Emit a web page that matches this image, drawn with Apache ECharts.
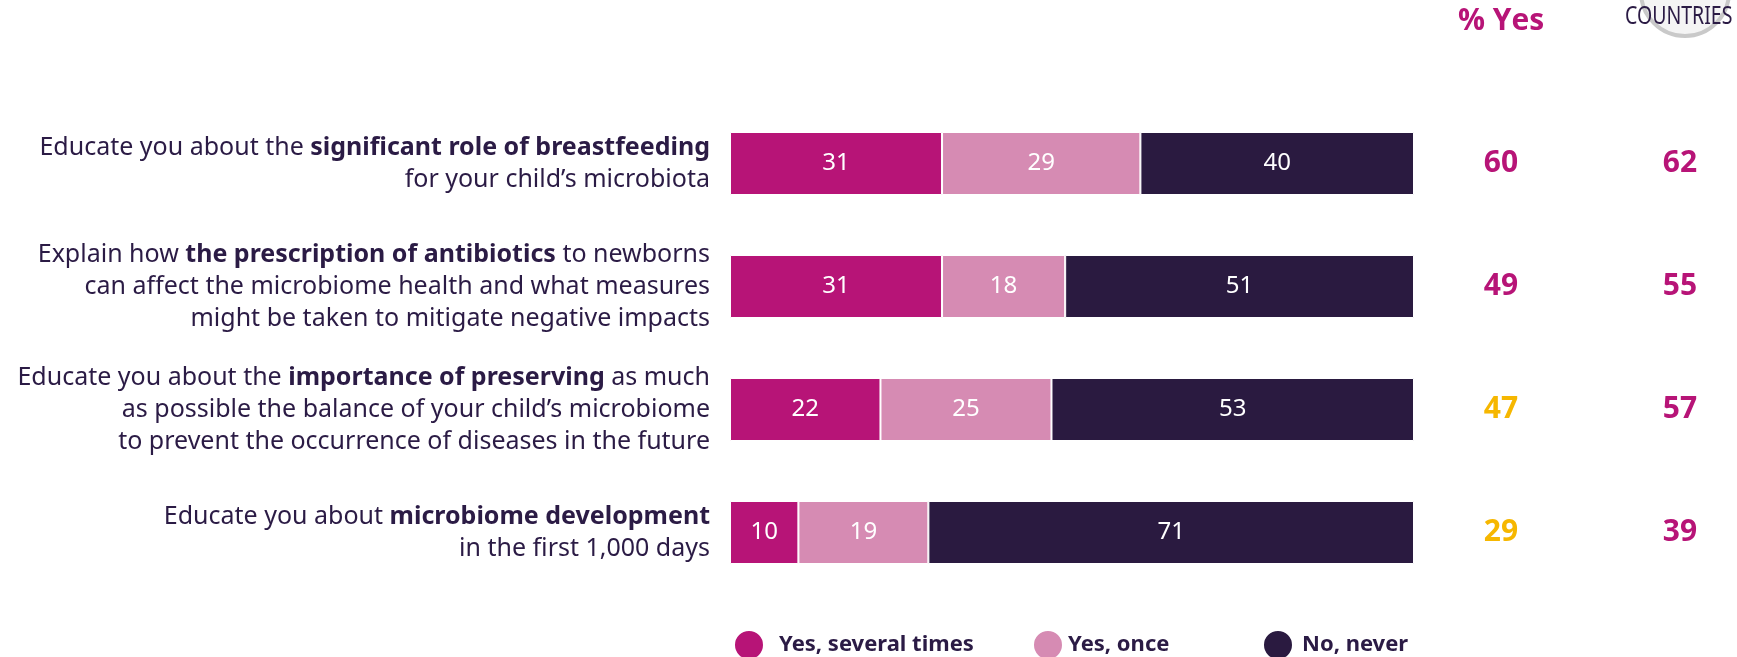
<!DOCTYPE html>
<html>
<head>
<meta charset="utf-8">
<script src="https://cdn.jsdelivr.net/npm/echarts@6/dist/echarts.min.js"></script>
<style>
  html, body { margin: 0; padding: 0; background: #ffffff; }
  #chart { width: 1737px; height: 657px; }
</style>
</head>
<body>
<div id="chart"></div>
<script>
// ---------- DATA ----------
const categories = [
  'Educate you about the **significant role of breastfeeding**\nfor your child’s microbiota',
  'Explain how **the prescription of antibiotics** to newborns\ncan affect the microbiome health and what measures\nmight be taken to mitigate negative impacts',
  'Educate you about the **importance of preserving** as much\nas possible the balance of your child’s microbiome\nto prevent the occurrence of diseases in the future',
  'Educate you about **microbiome development**\nin the first 1,000 days'
];
const seriesNames = ['Yes, several times', 'Yes, once', 'No, never'];
const yesSeveral = [31, 31, 22, 10];
const yesOnce = [29, 18, 25, 19];
const noNever = [40, 51, 53, 71];
const pctYes = [60, 49, 47, 29];
const allCountries = [62, 55, 57, 39];
const headerYes = '% Yes';
const headerCountries = 'COUNTRIES';

// ---------- STYLE ----------
const MAGENTA = '#b71477';
const PINK = '#d68bb3';
const DARK = '#2a1a40';
const YELLOW = '#f6b700';
const TEXT = '#2b1b45';
const FONT = '"Noto Sans", "Open Sans", sans-serif';
const NUMFONT = '"Open Sans", sans-serif';
const yesColors = [MAGENTA, MAGENTA, YELLOW, YELLOW];

function toRich(label) {
  return label.split('\n').map(line => {
    const parts = line.split('**');
    return parts.map((p, i) => p.length ? (i % 2 ? '{b|' + p + '}' : '{n|' + p + '}') : '').join('');
  }).join('\n');
}

const chart = echarts.init(document.getElementById('chart'), null, { renderer: 'canvas' });

const barColors = [MAGENTA, PINK, DARK];
const values = [yesSeveral, yesOnce, noNever];

const series = seriesNames.map((name, i) => ({
  name: name,
  type: 'bar',
  stack: 'total',
  barWidth: 63,
  data: values[i],
  itemStyle: { color: barColors[i], borderColor: '#ffffff', borderWidth: 1 },
  label: {
    show: true,
    position: 'inside',
    color: '#ffffff',
    fontFamily: FONT,
    fontSize: 24,
    formatter: '{c}'
  },
  emphasis: { disabled: true }
}));

const legendPos = [733, 1032, 1262];

const option = {
  animation: false,
  backgroundColor: '#ffffff',
  textStyle: { fontFamily: FONT },
  grid: { left: 730, right: 323, top: 102, bottom: 63, containLabel: false },
  xAxis: {
    type: 'value', min: 0, max: 100,
    show: false
  },
  yAxis: [
    {
      type: 'category',
      data: categories,
      inverse: true,
      axisLine: { show: false },
      axisTick: { show: false },
      splitLine: { show: false },
      axisLabel: {
        margin: 20,
        align: 'right',
        formatter: v => toRich(v),
        rich: {
          n: { fontFamily: FONT, fontSize: 25, color: TEXT, lineHeight: 32 },
          b: { fontFamily: FONT, fontSize: 25, fontWeight: 'bold', color: TEXT, lineHeight: 32 }
        }
      }
    },
    {
      type: 'category',
      data: pctYes.map(String),
      inverse: true,
      position: 'right',
      axisLine: { show: false },
      axisTick: { show: false },
      splitLine: { show: false },
      axisLabel: {
        margin: 87,
        align: 'center',
        formatter: (v, idx) => '{c' + idx + '|' + v + '}',
        rich: Object.fromEntries(yesColors.map((c, i) => ['c' + i, { color: c, fontFamily: NUMFONT, fontWeight: 'bold', fontSize: 30 }]))
      }
    },
    {
      type: 'category',
      data: allCountries.map(String),
      inverse: true,
      position: 'right',
      axisLine: { show: false },
      axisTick: { show: false },
      splitLine: { show: false },
      axisLabel: {
        margin: 266,
        align: 'center',
        color: MAGENTA,
        fontFamily: NUMFONT,
        fontWeight: 'bold',
        fontSize: 30
      }
    }
  ],
  legend: seriesNames.map((name, i) => ({
    data: [name],
    left: legendPos[i],
    top: 629,
    icon: 'circle',
    itemWidth: 30,
    itemHeight: 30,
    itemGap: 0,
    padding: 0,
    selectedMode: false,
    textStyle: { fontFamily: FONT, fontSize: 22, fontWeight: 'bold', color: TEXT, padding: [0, 0, 0, i === 0 ? 10 : (i === 1 ? 0 : 4)] }
  })),
  graphic: [
    {
      type: 'circle',
      shape: { cx: 1685, cy: -8, r: 44 },
      style: { fill: '#f4f4f4', stroke: '#c9c9c9', lineWidth: 4 },
      silent: true
    },
    {
      type: 'text',
      x: 1625,
      y: 4,
      scaleX: 0.78,
      style: { text: headerCountries, fill: TEXT, font: '25px ' + FONT }
    },
    {
      type: 'text',
      left: 1458,
      top: 6,
      style: { text: headerYes, fill: MAGENTA, font: 'bold 30px ' + NUMFONT }
    }
  ],
  series: series
};

chart.setOption(option);
</script>
</body>
</html>
